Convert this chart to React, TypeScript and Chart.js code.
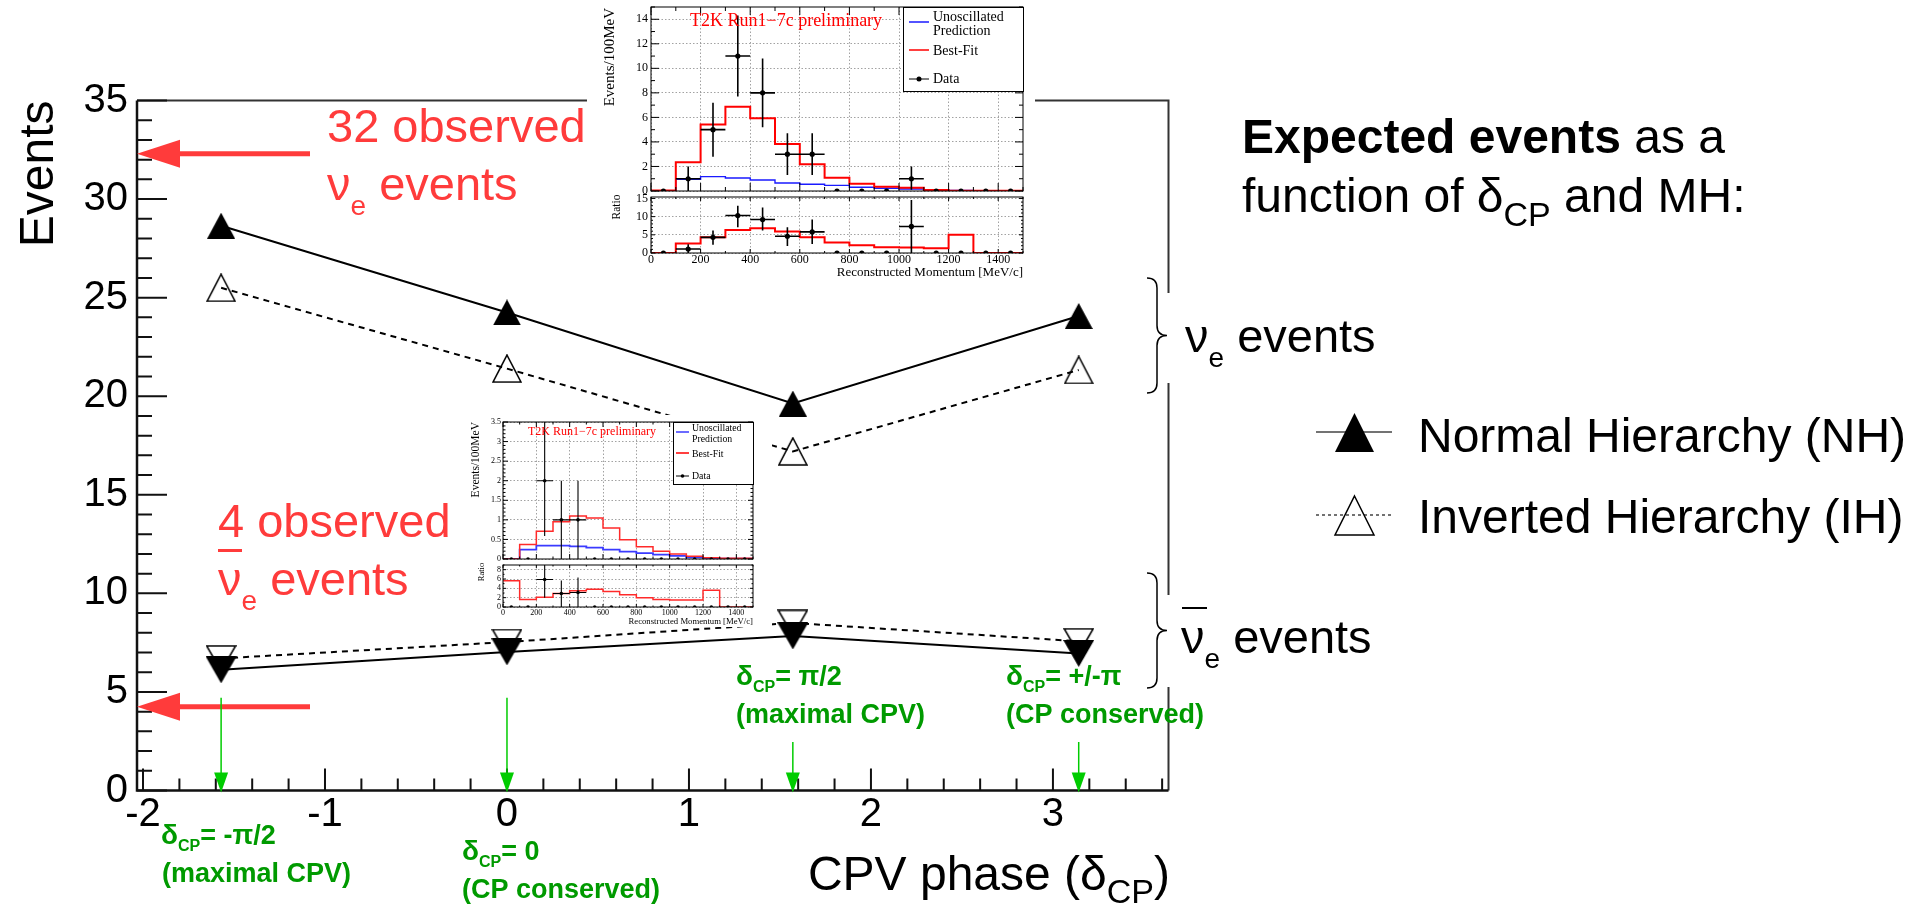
import React, { useEffect, useRef } from 'react';
import { Chart, registerables } from 'chart.js';

Chart.register(...registerables);

const SANS = "'Liberation Sans', Arial, Helvetica, sans-serif";
const SERIF = "'Liberation Serif', 'Times New Roman', Times, serif";
const RED = '#ff3b3b';
const GREEN_TEXT = '#009a00';
const GREEN_ARROW = '#00cc00';

// ---------------- main chart data ----------------
const deltaCP = [-Math.PI / 2, 0, Math.PI / 2, Math.PI];
const nhNue = [28.65, 24.25, 19.63, 24.07];
const ihNue = [25.5, 21.4, 17.2, 21.33];
const nhNuebar = [6.12, 7.03, 7.84, 6.95];
const ihNuebar = [6.7, 7.53, 8.5, 7.57];
const observedArrowLevels = [32.3, 4.25];
const xTickValues = [-2, -1, 0, 1, 2, 3];
const yTickValues = [0, 5, 10, 15, 20, 25, 30, 35];
const xRange = [-2.033, 3.635];
const yRange = [0, 35];
const phaseArrowTop = [4.7, 4.7, 2.46, 2.46];
const phaseLabels = ['= -π/2', '= 0', '= π/2', '= +/-π'];
const phaseNotes = ['(maximal CPV)', '(CP conserved)', '(maximal CPV)', '(CP conserved)'];

// ---------------- inset data ----------------
const momEdges = [0, 100, 200, 300, 400, 500, 600, 700, 800, 900, 1000, 1100, 1200, 1300, 1400, 1500];
const momCenters = [50, 150, 250, 350, 450, 550, 650, 750, 850, 950, 1050, 1150, 1250, 1350, 1450];
const momTicks = [0, 200, 400, 600, 800, 1000, 1200, 1400];

const nueUnosc = [0.02, 0.95, 1.17, 1.06, 0.9, 0.65, 0.55, 0.46, 0.3, 0.22, 0.16, 0.08, 0.04, 0.02, 0.01];
const nueBestFit = [0.05, 2.35, 5.42, 6.87, 5.94, 3.84, 2.18, 1.09, 0.6, 0.35, 0.27, 0.08, 0.03, 0.03, 0.03];
const nueData = [0, 1, 5, 11, 8, 3, 3, 0, 0, 0, 1, 0, 0, 0, 0];
const nueDataLow = [0, 0, 2.8, 7.7, 5.2, 1.3, 1.3, 0, 0, 0, 0.1, 0, 0, 0, 0];
const nueDataHigh = [0, 2.0, 7.2, 14.3, 10.8, 4.7, 4.7, 0, 0, 0, 2.0, 0, 0, 0, 0];
const nueRatioFit = [0, 2.6, 4.3, 6.3, 6.8, 5.9, 4.3, 2.9, 2.1, 1.6, 1.5, 1.3, 5.0, 0, 0];
const nueRatioData = [0, 1.1, 4.3, 10.3, 9.2, 4.6, 5.8, 0, 0, 0, 7.3, 0, 0, 0, 0];
const nueRatioLow = [0, 0, 2.3, 7.1, 6.2, 1.9, 2.5, 0, 0, 0, 0, 0, 0, 0, 0];
const nueRatioHigh = [0, 2.4, 6.2, 13.0, 12.5, 7.1, 9.2, 0, 0, 0, 14.6, 0, 0, 0, 0];

const nuebarUnosc = [0, 0.24, 0.34, 0.34, 0.32, 0.29, 0.24, 0.19, 0.15, 0.11, 0.08, 0.04, 0.02, 0.01, 0.01];
const nuebarBestFit = [0, 0.37, 0.71, 0.95, 1.1, 1.05, 0.79, 0.49, 0.31, 0.2, 0.13, 0.07, 0.03, 0.02, 0.02];
const nuebarData = [0, 0, 2, 1, 1, 0, 0, 0, 0, 0, 0, 0, 0, 0, 0];
const nuebarDataLow = [0, 0, 0.59, 0, 0, 0, 0, 0, 0, 0, 0, 0, 0, 0, 0];
const nuebarDataHigh = [0, 0, 3.6, 2.0, 2.0, 0, 0, 0, 0, 0, 0, 0, 0, 0, 0];
const nuebarRatioFit = [5.65, 1.6, 2.1, 2.9, 3.5, 3.8, 3.3, 2.6, 2.0, 1.6, 1.5, 1.5, 3.6, 0, 0];
const nuebarRatioData = [0, 0, 5.9, 2.9, 3.1, 0, 0, 0, 0, 0, 0, 0, 0, 0, 0];
const nuebarRatioLow = [0, 0, 2.0, 0, 0, 0, 0, 0, 0, 0, 0, 0, 0, 0, 0];
const nuebarRatioHigh = [0, 0, 9.5, 5.7, 6.3, 0, 0, 0, 0, 0, 0, 0, 0, 0, 0];

// ---------------- helpers ----------------
type Part = { t: string; size: number; bold?: boolean; dy?: number; fam?: string };

function drawParts(ctx: any, x: number, y: number, parts: Part[], color: string, align = 'left') {
  ctx.save();
  ctx.textBaseline = 'alphabetic';
  ctx.textAlign = 'left';
  ctx.fillStyle = color;
  const fontOf = (p: Part) => `${p.bold ? 'bold ' : ''}${p.size}px ${p.fam || SANS}`;
  let w = 0;
  for (const p of parts) {
    ctx.font = fontOf(p);
    w += ctx.measureText(p.t).width;
  }
  let cx = align === 'right' ? x - w : x;
  for (const p of parts) {
    ctx.font = fontOf(p);
    ctx.fillText(p.t, cx, y + (p.dy || 0));
    cx += ctx.measureText(p.t).width;
  }
  ctx.restore();
  return w;
}

function triCanvas(dir: string, filled: boolean, w: number, h: number) {
  const c = document.createElement('canvas');
  c.width = w;
  c.height = h;
  const g = c.getContext('2d') as CanvasRenderingContext2D;
  const m = filled ? 0 : 1;
  g.beginPath();
  if (dir === 'up') {
    g.moveTo(w / 2, m);
    g.lineTo(w - m, h - m);
    g.lineTo(m, h - m);
  } else {
    g.moveTo(m, m);
    g.lineTo(w - m, m);
    g.lineTo(w / 2, h - m);
  }
  g.closePath();
  if (filled) {
    g.fillStyle = '#000';
    g.fill();
  } else {
    g.strokeStyle = '#000';
    g.lineWidth = 1.6;
    g.stroke();
  }
  return c;
}

function drawTriangle(ctx: any, x: number, y: number, w: number, h: number, filled: boolean) {
  ctx.beginPath();
  ctx.moveTo(x + w / 2, y);
  ctx.lineTo(x + w, y + h);
  ctx.lineTo(x, y + h);
  ctx.closePath();
  if (filled) {
    ctx.fillStyle = '#000';
    ctx.fill();
  } else {
    ctx.strokeStyle = '#000';
    ctx.lineWidth = 1.5;
    ctx.stroke();
  }
}

function brace(ctx: any, xl: number, xr: number, yt: number, yb: number) {
  const xm = (xl + xr) / 2;
  const ym = (yt + yb) / 2;
  const c = 10;
  ctx.beginPath();
  ctx.moveTo(xl, yt);
  ctx.quadraticCurveTo(xm, yt, xm, yt + c);
  ctx.lineTo(xm, ym - c);
  ctx.quadraticCurveTo(xm, ym, xr, ym);
  ctx.quadraticCurveTo(xm, ym, xm, ym + c);
  ctx.lineTo(xm, yb - c);
  ctx.quadraticCurveTo(xm, yb, xl, yb);
  ctx.stroke();
}

const zeroPad = (s: any) => {
  s.paddingTop = 0;
  s.paddingBottom = 0;
  s.paddingLeft = 0;
  s.paddingRight = 0;
};

// ---------------- main chart ----------------
function buildMain(canvas: HTMLCanvasElement) {
  const upFilled = triCanvas('up', true, 28, 26);
  const upOpen = triCanvas('up', false, 30, 29);
  const downFilled = triCanvas('down', true, 31, 27);
  const downOpen = triCanvas('down', false, 31, 27);
  const series = (vals: number[]) => deltaCP.map((x, i) => ({ x, y: vals[i] }));

  const decor = {
    id: 'mainDecor',
    beforeDatasetsDraw(chart: any) {
      const { ctx, chartArea: a } = chart;
      const xs = chart.scales.x;
      const ys = chart.scales.y;
      ctx.save();
      ctx.strokeStyle = '#333';
      ctx.lineWidth = 2;
      ctx.beginPath();
      ctx.moveTo(a.left, a.top);
      ctx.lineTo(a.right, a.top);
      ctx.lineTo(a.right, a.bottom);
      ctx.stroke();
      ctx.strokeStyle = '#111';
      ctx.lineWidth = 2.5;
      ctx.beginPath();
      ctx.moveTo(a.left, a.top);
      ctx.lineTo(a.left, a.bottom);
      ctx.lineTo(a.right, a.bottom);
      ctx.stroke();
      ctx.lineWidth = 2;
      ctx.beginPath();
      for (let v = yRange[0]; v <= yRange[1]; v += 1) {
        const p = ys.getPixelForValue(v);
        const major = v % 5 === 0;
        ctx.moveTo(a.left, p);
        ctx.lineTo(a.left + (major ? 30 : 15), p);
      }
      for (let k = Math.ceil(xRange[0] * 5); k <= Math.floor(xRange[1] * 5); k++) {
        const p = xs.getPixelForValue(k / 5);
        const major = k % 5 === 0;
        ctx.moveTo(p, a.bottom);
        ctx.lineTo(p, a.bottom - (major ? 22 : 12));
      }
      ctx.stroke();
      ctx.restore();
    },
    afterDatasetsDraw(chart: any) {
      const { ctx, chartArea: a } = chart;
      const xs = chart.scales.x;
      const ys = chart.scales.y;
      ctx.save();
      observedArrowLevels.forEach((v) => {
        const py = ys.getPixelForValue(v);
        ctx.strokeStyle = RED;
        ctx.lineWidth = 5;
        ctx.beginPath();
        ctx.moveTo(a.left + 35, py);
        ctx.lineTo(310, py);
        ctx.stroke();
        ctx.fillStyle = RED;
        ctx.beginPath();
        ctx.moveTo(a.left, py);
        ctx.lineTo(a.left + 43, py - 14);
        ctx.lineTo(a.left + 43, py + 14);
        ctx.closePath();
        ctx.fill();
      });
      deltaCP.forEach((v, i) => {
        const px = xs.getPixelForValue(v);
        const top = ys.getPixelForValue(phaseArrowTop[i]);
        const tip = a.bottom + 2;
        ctx.strokeStyle = GREEN_ARROW;
        ctx.lineWidth = 1.5;
        ctx.beginPath();
        ctx.moveTo(px, top);
        ctx.lineTo(px, tip - 18);
        ctx.stroke();
        ctx.fillStyle = GREEN_ARROW;
        ctx.beginPath();
        ctx.moveTo(px, tip);
        ctx.lineTo(px - 7, tip - 20);
        ctx.lineTo(px + 7, tip - 20);
        ctx.closePath();
        ctx.fill();
      });
      ctx.restore();
    },
    afterDraw(chart: any) {
      const { ctx, chartArea: a } = chart;
      ctx.save();
      ctx.save();
      ctx.translate(53, a.top);
      ctx.rotate(-Math.PI / 2);
      ctx.font = `48px ${SANS}`;
      ctx.fillStyle = '#000';
      ctx.textAlign = 'right';
      ctx.textBaseline = 'alphabetic';
      ctx.fillText('Events', 0, 0);
      ctx.restore();
      drawParts(ctx, 1170, 890, [
        { t: 'CPV phase (δ', size: 48 },
        { t: 'CP', size: 34, dy: 13 },
        { t: ')', size: 48 },
      ], '#000', 'right');

      drawParts(ctx, 327, 142, [{ t: '32 observed', size: 47 }], RED);
      drawParts(ctx, 327, 200, [
        { t: 'ν', size: 47 },
        { t: 'e', size: 28, dy: 15 },
        { t: ' events', size: 47 },
      ], RED);
      drawParts(ctx, 218, 537, [{ t: '4 observed', size: 47 }], RED);
      ctx.fillStyle = RED;
      ctx.fillRect(218, 549, 24, 3);
      drawParts(ctx, 218, 595, [
        { t: 'ν', size: 47 },
        { t: 'e', size: 28, dy: 15 },
        { t: ' events', size: 47 },
      ], RED);

      const labelPos = [
        [161, 844, 162, 882],
        [462, 860, 462, 898],
        [736, 685, 736, 723],
        [1006, 685, 1006, 723],
      ];
      phaseLabels.forEach((lab, i) => {
        const [x1, y1, x2, y2] = labelPos[i];
        drawParts(ctx, x1, y1, [
          { t: 'δ', size: 28, bold: true },
          { t: 'CP', size: 16, bold: true, dy: 7 },
          { t: lab, size: 27, bold: true },
        ], GREEN_TEXT);
        drawParts(ctx, x2, y2, [{ t: phaseNotes[i], size: 27, bold: true }], GREEN_TEXT);
      });

      ctx.fillStyle = '#fff';
      ctx.fillRect(1160, 293, 20, 90);
      ctx.fillRect(1160, 595, 20, 92);
      ctx.strokeStyle = '#000';
      ctx.lineWidth = 1.5;
      brace(ctx, 1147, 1167, 278, 393);
      brace(ctx, 1147, 1167, 573, 688);
      drawParts(ctx, 1185, 352, [
        { t: 'ν', size: 47 },
        { t: 'e', size: 28, dy: 15 },
        { t: ' events', size: 47 },
      ], '#000');
      drawParts(ctx, 1181, 653, [
        { t: 'ν', size: 47 },
        { t: 'e', size: 28, dy: 15 },
        { t: ' events', size: 47 },
      ], '#000');
      ctx.fillStyle = '#000';
      ctx.fillRect(1182, 607, 25, 2);

      drawParts(ctx, 1242, 153, [
        { t: 'Expected events', size: 48, bold: true },
        { t: ' as a', size: 48 },
      ], '#000');
      drawParts(ctx, 1242, 212, [
        { t: 'function of δ', size: 48 },
        { t: 'CP', size: 34, dy: 14 },
        { t: ' and MH:', size: 48 },
      ], '#000');

      ctx.strokeStyle = '#444';
      ctx.lineWidth = 1.5;
      ctx.beginPath();
      ctx.moveTo(1316, 432);
      ctx.lineTo(1392, 432);
      ctx.stroke();
      drawTriangle(ctx, 1335, 413, 39, 39, true);
      ctx.setLineDash([3, 3]);
      ctx.beginPath();
      ctx.moveTo(1316, 515);
      ctx.lineTo(1392, 515);
      ctx.stroke();
      ctx.setLineDash([]);
      drawTriangle(ctx, 1335, 496, 39, 39, false);
      drawParts(ctx, 1418, 452, [{ t: 'Normal Hierarchy (NH)', size: 48 }], '#000');
      drawParts(ctx, 1418, 533, [{ t: 'Inverted Hierarchy (IH)', size: 48 }], '#000');
      ctx.restore();
    },
  };

  return new Chart(canvas, {
    type: 'line',
    data: {
      datasets: [
        { label: 'NH νe', data: series(nhNue), borderColor: '#000', borderWidth: 2, pointStyle: upFilled, pointRadius: 12, fill: false },
        { label: 'NH anti-νe', data: series(nhNuebar), borderColor: '#000', borderWidth: 2, pointStyle: downFilled, pointRadius: 12, fill: false },
        { label: 'IH νe', data: series(ihNue), borderColor: '#000', borderWidth: 2, borderDash: [6, 5], pointStyle: upOpen, pointRadius: 12, fill: false },
        { label: 'IH anti-νe', data: series(ihNuebar), borderColor: '#000', borderWidth: 2, borderDash: [6, 5], pointStyle: downOpen, pointRadius: 12, fill: false },
      ] as any,
    },
    options: {
      animation: false,
      responsive: false,
      maintainAspectRatio: false,
      events: [],
      layout: { padding: { left: 0, top: 100.5, right: 1922 - 1168.5, bottom: 0 } },
      plugins: { legend: { display: false }, tooltip: { enabled: false } },
      scales: {
        x: {
          type: 'linear',
          min: xRange[0],
          max: xRange[1],
          afterBuildTicks: (s: any) => { s.ticks = xTickValues.map((v) => ({ value: v })); },
          afterFit: (s: any) => { s.height = 909 - 790.5; zeroPad(s); },
          ticks: { font: { family: SANS, size: 40 }, color: '#000', padding: 0, maxRotation: 0, autoSkip: false, callback: (v: any) => String(v) },
          grid: { display: false, drawTicks: false },
          border: { display: false },
        },
        y: {
          type: 'linear',
          min: yRange[0],
          max: yRange[1],
          afterBuildTicks: (s: any) => { s.ticks = yTickValues.map((v) => ({ value: v })); },
          afterFit: (s: any) => { s.width = 137; zeroPad(s); },
          ticks: { font: { family: SANS, size: 40 }, color: '#000', padding: 9, autoSkip: false, callback: (v: any) => String(v) },
          grid: { display: false, drawTicks: false },
          border: { display: false },
        },
      },
    } as any,
    plugins: [decor],
  });
}

// ---------------- insets ----------------
function makePanel(canvas: HTMLCanvasElement, cfg: any) {
  const { area, W, H } = cfg;
  const histPts = (vals: number[]) => momEdges.map((e, i) => ({ x: e, y: vals[Math.min(i, vals.length - 1)] }));
  const datasets: any[] = [
    {
      data: momCenters.map((c, i) => ({ x: c, y: cfg.pts[i] })),
      showLine: false,
      pointRadius: cfg.dotR,
      pointStyle: 'circle',
      pointBackgroundColor: '#000',
      pointBorderColor: '#000',
      pointBorderWidth: 0,
    },
    ...cfg.hists.map((h: any) => ({
      data: histPts(h.vals),
      stepped: 'before',
      borderColor: h.color,
      borderWidth: h.width,
      pointRadius: 0,
      fill: false,
    })),
  ];
  const deco = {
    id: 'insetDeco',
    afterDatasetsDraw(chart: any) {
      const { ctx, chartArea: a } = chart;
      const xs = chart.scales.x;
      const ys = chart.scales.y;
      ctx.save();
      ctx.beginPath();
      ctx.rect(a.left, a.top, a.right - a.left, a.bottom - a.top);
      ctx.clip();
      ctx.strokeStyle = '#000';
      ctx.lineWidth = cfg.errW;
      ctx.beginPath();
      cfg.pts.forEach((v: number, i: number) => {
        if (v <= 0 && cfg.hi[i] <= 0) return;
        const cx = xs.getPixelForValue(momCenters[i]);
        ctx.moveTo(cx, ys.getPixelForValue(cfg.lo[i]));
        ctx.lineTo(cx, ys.getPixelForValue(cfg.hi[i]));
        const py = ys.getPixelForValue(v);
        ctx.moveTo(xs.getPixelForValue(momEdges[i]), py);
        ctx.lineTo(xs.getPixelForValue(momEdges[i + 1]), py);
      });
      ctx.stroke();
      ctx.restore();
    },
    afterDraw(chart: any) {
      const { ctx, chartArea: a } = chart;
      const xs = chart.scales.x;
      const ys = chart.scales.y;
      ctx.save();
      ctx.strokeStyle = '#000';
      ctx.lineWidth = 1;
      ctx.strokeRect(a.left, a.top, a.right - a.left, a.bottom - a.top);
      ctx.beginPath();
      for (let v = 0; v <= 1500; v += 100) {
        const p = xs.getPixelForValue(v);
        const l = v % 200 === 0 ? cfg.tl : cfg.tl / 2;
        ctx.moveTo(p, a.bottom);
        ctx.lineTo(p, a.bottom - l);
        ctx.moveTo(p, a.top);
        ctx.lineTo(p, a.top + l);
      }
      const nMinor = Math.round(cfg.yMax / cfg.yMinor);
      for (let k = 0; k <= nMinor; k++) {
        const v = k * cfg.yMinor;
        const p = ys.getPixelForValue(v);
        const major = cfg.yTicks.some((t: number) => Math.abs(t - v) < 1e-6);
        const l = major ? cfg.tl : cfg.tl / 2;
        ctx.moveTo(a.left, p);
        ctx.lineTo(a.left + l, p);
        ctx.moveTo(a.right, p);
        ctx.lineTo(a.right - l, p);
      }
      ctx.stroke();
      ctx.restore();
      if (cfg.decor) cfg.decor(ctx, chart);
    },
  };
  return new Chart(canvas, {
    type: 'line',
    data: { datasets },
    options: {
      animation: false,
      responsive: false,
      maintainAspectRatio: false,
      events: [],
      layout: { padding: { left: 0, top: area.t, right: W - area.r, bottom: 0 } },
      plugins: { legend: { display: false }, tooltip: { enabled: false } },
      scales: {
        x: {
          type: 'linear',
          min: 0,
          max: 1500,
          afterBuildTicks: (s: any) => { s.ticks = momTicks.map((v) => ({ value: v })); },
          afterFit: (s: any) => { s.height = H - area.b; zeroPad(s); },
          ticks: { display: cfg.showX, font: { family: SERIF, size: cfg.font }, color: '#000', padding: cfg.xPad, maxRotation: 0, autoSkip: false, callback: (v: any) => String(v) },
          grid: { color: '#8a8a8a', lineWidth: 0.8, drawTicks: false },
          border: { display: false, dash: [1.5, 2] },
        },
        y: {
          type: 'linear',
          min: 0,
          max: cfg.yMax,
          afterBuildTicks: (s: any) => { s.ticks = cfg.yTicks.map((v: number) => ({ value: v })); },
          afterFit: (s: any) => { s.width = area.l; zeroPad(s); },
          ticks: { font: { family: SERIF, size: cfg.font }, color: '#000', padding: cfg.yPad, autoSkip: false, callback: (v: any) => String(v) },
          grid: { color: '#8a8a8a', lineWidth: 0.8, drawTicks: false },
          border: { display: false, dash: [1.5, 2] },
        },
      },
    } as any,
    plugins: [deco],
  });
}

function insetMainDecor(d: any) {
  return (ctx: any) => {
    ctx.save();
    ctx.fillStyle = '#ff0000';
    ctx.font = `${d.t2kSize}px ${SERIF}`;
    ctx.textBaseline = 'middle';
    ctx.textAlign = 'left';
    ctx.fillText('T2K Run1−7c preliminary', d.t2kX, d.t2kY);
    const [bx0, by0, bx1, by1] = d.box;
    ctx.fillStyle = '#fff';
    ctx.fillRect(bx0, by0, bx1 - bx0, by1 - by0);
    ctx.strokeStyle = '#000';
    ctx.lineWidth = 1;
    ctx.strokeRect(bx0 + 0.5, by0 + 0.5, bx1 - bx0 - 1, by1 - by0 - 1);
    ctx.fillStyle = '#000';
    ctx.font = `${d.legSize}px ${SERIF}`;
    ctx.fillText('Unoscillated', d.textX, d.rows[0]);
    ctx.fillText('Prediction', d.textX, d.rows[1]);
    ctx.fillText('Best-Fit', d.textX, d.rows[2]);
    ctx.fillText('Data', d.textX, d.rows[3]);
    ctx.lineWidth = d.sampleW;
    ctx.strokeStyle = d.blue;
    ctx.beginPath();
    ctx.moveTo(d.lineX[0], d.blueY);
    ctx.lineTo(d.lineX[1], d.blueY);
    ctx.stroke();
    ctx.strokeStyle = '#ff0000';
    ctx.beginPath();
    ctx.moveTo(d.lineX[0], d.redY);
    ctx.lineTo(d.lineX[1], d.redY);
    ctx.stroke();
    ctx.strokeStyle = '#000';
    ctx.lineWidth = 1;
    ctx.beginPath();
    ctx.moveTo(d.lineX[0], d.rows[3]);
    ctx.lineTo(d.lineX[1], d.rows[3]);
    ctx.stroke();
    ctx.beginPath();
    ctx.arc((d.lineX[0] + d.lineX[1]) / 2, d.rows[3], d.dotR, 0, Math.PI * 2);
    ctx.fill();
    ctx.save();
    ctx.translate(d.yTitleX, d.yTitleTop);
    ctx.rotate(-Math.PI / 2);
    ctx.font = `${d.yTitleSize}px ${SERIF}`;
    ctx.textAlign = 'right';
    ctx.textBaseline = 'alphabetic';
    ctx.fillText('Events/100MeV', 0, 0);
    ctx.restore();
    ctx.restore();
  };
}

function insetRatioDecor(d: any) {
  return (ctx: any) => {
    ctx.save();
    ctx.fillStyle = '#000';
    ctx.font = `${d.xTitleSize}px ${SERIF}`;
    ctx.textAlign = 'right';
    ctx.textBaseline = 'middle';
    ctx.fillText('Reconstructed Momentum [MeV/c]', d.xTitleRight, d.xTitleY);
    ctx.translate(d.ratioX, d.ratioY);
    ctx.rotate(-Math.PI / 2);
    ctx.font = `${d.ratioSize}px ${SERIF}`;
    ctx.textAlign = 'center';
    ctx.fillText('Ratio', 0, 0);
    ctx.restore();
  };
}

export default function App() {
  const mainRef = useRef<HTMLCanvasElement>(null);
  const a1 = useRef<HTMLCanvasElement>(null);
  const a2 = useRef<HTMLCanvasElement>(null);
  const b1 = useRef<HTMLCanvasElement>(null);
  const b2 = useRef<HTMLCanvasElement>(null);

  useEffect(() => {
    document.body.style.overflow = 'hidden';
    const charts: Chart[] = [];
    charts.push(buildMain(mainRef.current as HTMLCanvasElement));

    charts.push(makePanel(a1.current as HTMLCanvasElement, {
      W: 448, H: 195, area: { l: 64, t: 7, r: 436, b: 191 },
      yMax: 15, yTicks: [0, 2, 4, 6, 8, 10, 12, 14], yMinor: 1, tl: 8,
      showX: false, font: 12, xPad: 0, yPad: 3, dotR: 2.6, errW: 1.6,
      hists: [
        { vals: nueBestFit, color: '#ff0000', width: 2 },
        { vals: nueUnosc, color: '#1a1aff', width: 1.4 },
      ],
      pts: nueData, lo: nueDataLow, hi: nueDataHigh,
      decor: insetMainDecor({
        t2kSize: 18, t2kX: 103, t2kY: 21,
        box: [316, 7, 437, 92], textX: 346, rows: [17, 31, 51.5, 79], legSize: 14,
        lineX: [322, 342], blueY: 22, redY: 50, blue: '#1a1aff', sampleW: 1.5, dotR: 2.5,
        yTitleX: 27, yTitleTop: 8, yTitleSize: 15,
      }),
    }));
    charts.push(makePanel(a2.current as HTMLCanvasElement, {
      W: 448, H: 92, area: { l: 64, t: 3, r: 436, b: 60 },
      yMax: 15.4, yTicks: [0, 5, 10, 15], yMinor: 1, tl: 4,
      showX: true, font: 12, xPad: 0, yPad: 3, dotR: 2.6, errW: 1.6,
      hists: [{ vals: nueRatioFit, color: '#ff0000', width: 2 }],
      pts: nueRatioData, lo: nueRatioLow, hi: nueRatioHigh,
      decor: insetRatioDecor({ xTitleSize: 13, xTitleRight: 436, xTitleY: 80, ratioX: 30, ratioY: 14, ratioSize: 11.5 }),
    }));

    charts.push(makePanel(b1.current as HTMLCanvasElement, {
      W: 307, H: 148, area: { l: 38, t: 7, r: 288, b: 145 },
      yMax: 3.5, yTicks: [0, 0.5, 1, 1.5, 2, 2.5, 3, 3.5], yMinor: 0.1, tl: 5,
      showX: false, font: 8, xPad: 1, yPad: 2, dotR: 1.8, errW: 1.1,
      hists: [
        { vals: nuebarBestFit, color: '#ff2a2a', width: 1.5 },
        { vals: nuebarUnosc, color: '#3a3aff', width: 1.8 },
      ],
      pts: nuebarData, lo: nuebarDataLow, hi: nuebarDataHigh,
      decor: insetMainDecor({
        t2kSize: 12, t2kX: 63, t2kY: 17,
        box: [208, 7, 289, 70], textX: 227, rows: [13, 24, 39, 61], legSize: 9.8,
        lineX: [211, 224], blueY: 17, redY: 38, blue: '#3a3aff', sampleW: 1.5, dotR: 1.8,
        yTitleX: 14, yTitleTop: 7, yTitleSize: 11.5,
      }),
    }));
    charts.push(makePanel(b2.current as HTMLCanvasElement, {
      W: 307, H: 66, area: { l: 38, t: 2, r: 288, b: 46 },
      yMax: 9, yTicks: [0, 2, 4, 6, 8], yMinor: 1, tl: 3,
      showX: true, font: 8, xPad: 1, yPad: 2, dotR: 1.8, errW: 1.1,
      hists: [{ vals: nuebarRatioFit, color: '#ff2a2a', width: 1.5 }],
      pts: nuebarRatioData, lo: nuebarRatioLow, hi: nuebarRatioHigh,
      decor: insetRatioDecor({ xTitleSize: 8.7, xTitleRight: 288, xTitleY: 61, ratioX: 17, ratioY: 11, ratioSize: 8.5 }),
    }));

    return () => charts.forEach((c) => c.destroy());
  }, []);

  return (
    <div style={{ position: 'absolute', left: 0, top: 0, width: 1922, height: 909, overflow: 'hidden', background: '#fff' }}>
      <canvas ref={mainRef} width={1922} height={909} style={{ position: 'absolute', left: 0, top: 0, width: 1922, height: 909 }} />
      <div style={{ position: 'absolute', left: 587, top: 0, width: 448, height: 285, background: '#fff' }}>
        <canvas ref={a1} width={448} height={195} style={{ position: 'absolute', left: 0, top: 0, width: 448, height: 195 }} />
        <canvas ref={a2} width={448} height={92} style={{ position: 'absolute', left: 0, top: 193, width: 448, height: 92 }} />
      </div>
      <div style={{ position: 'absolute', left: 465, top: 415, width: 307, height: 212, background: '#fff' }}>
        <canvas ref={b1} width={307} height={148} style={{ position: 'absolute', left: 0, top: 0, width: 307, height: 148 }} />
        <canvas ref={b2} width={307} height={66} style={{ position: 'absolute', left: 0, top: 146, width: 307, height: 66 }} />
      </div>
    </div>
  );
}
